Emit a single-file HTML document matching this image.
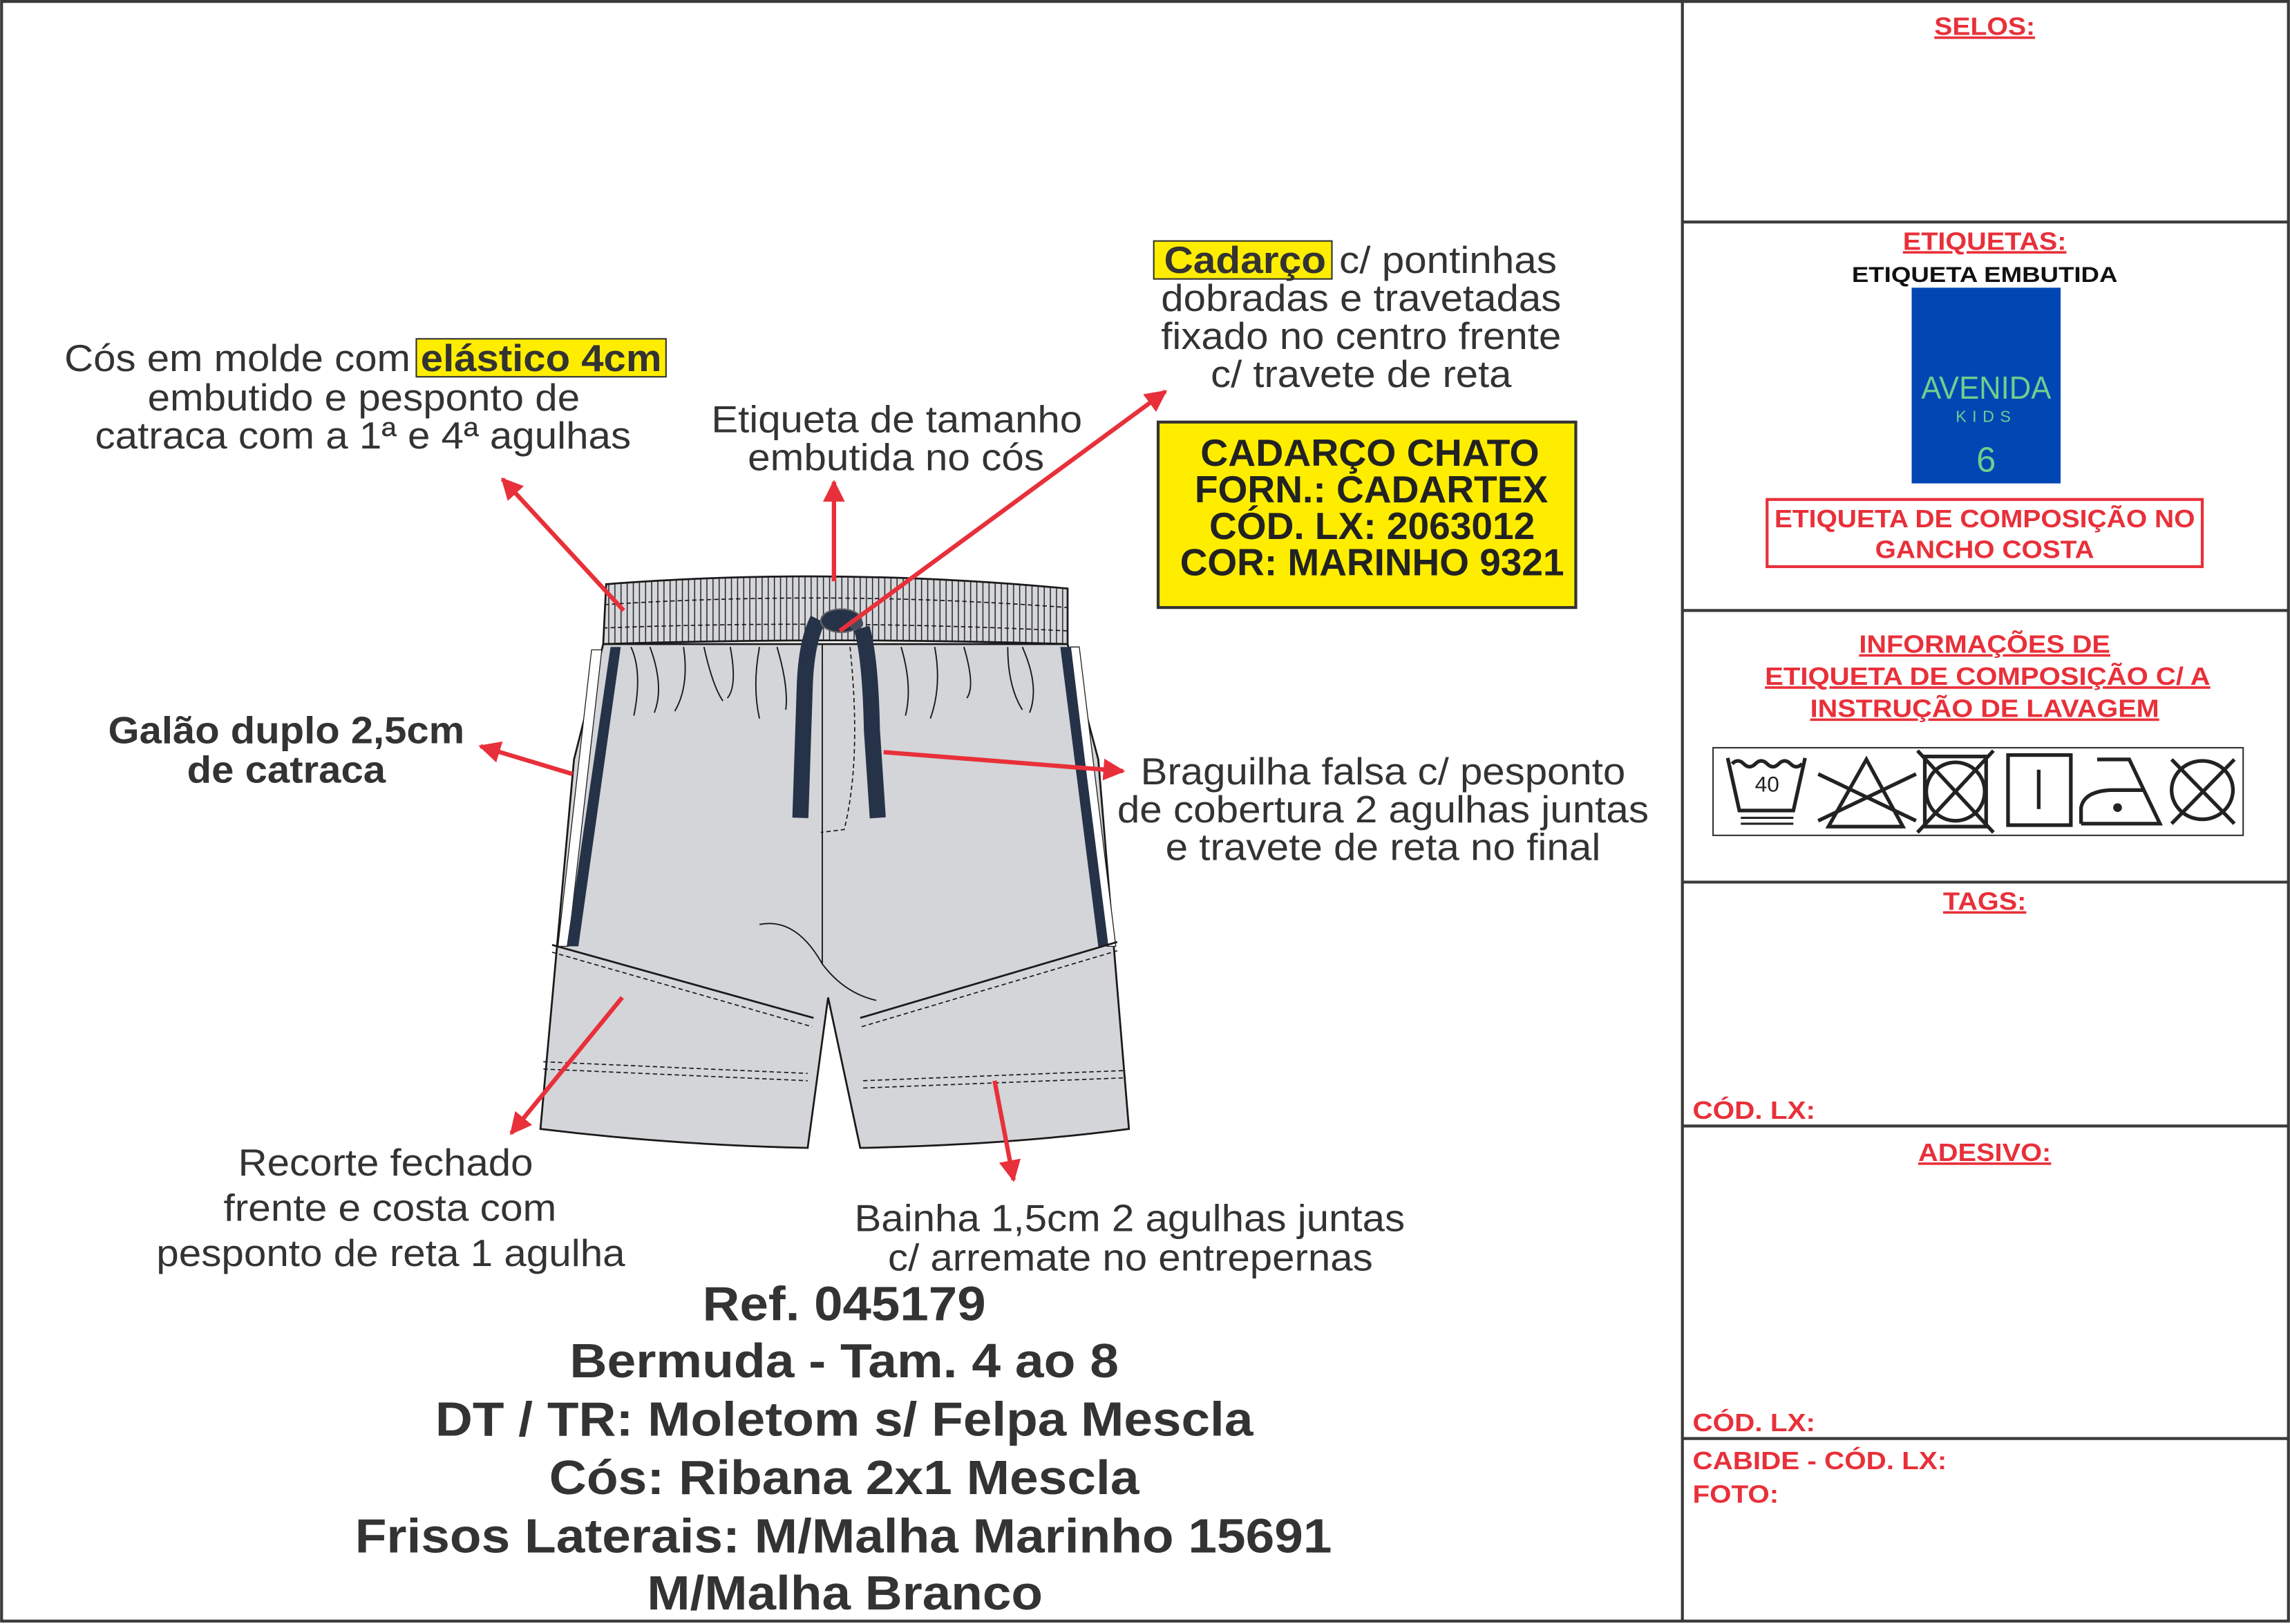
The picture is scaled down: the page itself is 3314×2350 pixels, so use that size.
<!DOCTYPE html>
<html><head><meta charset="utf-8"><style>
html,body{margin:0;padding:0;background:#fff}
svg{display:block}
text{font-family:"Liberation Sans",sans-serif;fill:#333}
.b{font-weight:bold}
.r{fill:#e8303a;font-weight:bold}
</style></head><body>
<svg width="3314" height="2350" viewBox="0 0 1568 1112" xmlns="http://www.w3.org/2000/svg">
<defs>
<marker id="ah" viewBox="0 0 10 10" refX="9" refY="5" markerWidth="5" markerHeight="5" orient="auto"><path d="M0,0 L10,5 L0,10 z" fill="#e8303a"/></marker>
<pattern id="rib" width="4.2" height="50" patternUnits="userSpaceOnUse"><rect width="4.2" height="50" fill="#d6d7da"/><line x1="1" y1="0" x2="1" y2="50" stroke="#222" stroke-width="0.7"/></pattern>
</defs>
<rect x="1" y="1" width="1566" height="1109" fill="#fff" stroke="#3a3a3a" stroke-width="2"/>
<line x1="1152" y1="1" x2="1152" y2="1110" stroke="#3a3a3a" stroke-width="2"/>
<g stroke="#3a3a3a" stroke-width="2">
<line x1="1152" y1="152" x2="1567" y2="152"/><line x1="1152" y1="418" x2="1567" y2="418"/>
<line x1="1152" y1="604" x2="1567" y2="604"/><line x1="1152" y1="771" x2="1567" y2="771"/>
<line x1="1152" y1="985" x2="1567" y2="985"/></g>
<g font-size="17" text-anchor="middle">
<text class="r" x="1359" y="24" textLength="69" lengthAdjust="spacingAndGlyphs" text-decoration="underline">SELOS:</text>
<text class="r" x="1359" y="171" textLength="112" lengthAdjust="spacingAndGlyphs" text-decoration="underline">ETIQUETAS:</text>
<text class="b" x="1359" y="193" textLength="182" lengthAdjust="spacingAndGlyphs" style="fill:#111" font-size="15">ETIQUETA EMBUTIDA</text>
<rect x="1309" y="197" width="102" height="134" fill="#0047b3"/>
<text x="1360" y="273" font-size="22" style="fill:#6dcf8e" textLength="89" lengthAdjust="spacingAndGlyphs">AVENIDA</text>
<text x="1360" y="289" font-size="11" style="fill:#6dcf8e" letter-spacing="4">KIDS</text>
<text x="1360" y="323" font-size="24" style="fill:#6dcf8e">6</text>
<rect x="1210" y="342" width="298" height="46" fill="none" stroke="#e8303a" stroke-width="2"/>
<text class="r" x="1359" y="361" textLength="288" lengthAdjust="spacingAndGlyphs">ETIQUETA DE COMPOSIÇÃO NO</text>
<text class="r" x="1359" y="382" textLength="150" lengthAdjust="spacingAndGlyphs">GANCHO COSTA</text>
<text class="r" x="1359" y="447" textLength="172" lengthAdjust="spacingAndGlyphs" text-decoration="underline">INFORMAÇÕES DE</text>
<text class="r" x="1361" y="469" textLength="305" lengthAdjust="spacingAndGlyphs" text-decoration="underline">ETIQUETA DE COMPOSIÇÃO C/ A</text>
<text class="r" x="1359" y="491" textLength="239" lengthAdjust="spacingAndGlyphs" text-decoration="underline">INSTRUÇÃO DE LAVAGEM</text>
<text class="r" x="1359" y="623" textLength="57" lengthAdjust="spacingAndGlyphs" text-decoration="underline">TAGS:</text>
<text class="r" x="1359" y="795" textLength="91" lengthAdjust="spacingAndGlyphs" text-decoration="underline">ADESIVO:</text>
</g>
<g font-size="17" text-anchor="start">
<text class="r" x="1159" y="766" textLength="84" lengthAdjust="spacingAndGlyphs">CÓD. LX:</text>
<text class="r" x="1159" y="980" textLength="84" lengthAdjust="spacingAndGlyphs">CÓD. LX:</text>
<text class="r" x="1159" y="1006" textLength="174" lengthAdjust="spacingAndGlyphs">CABIDE - CÓD. LX:</text>
<text class="r" x="1159" y="1029" textLength="59" lengthAdjust="spacingAndGlyphs">FOTO:</text>
</g>
<rect x="1173" y="512" width="363" height="60" fill="#fff" stroke="#333" stroke-width="1"/>
<g fill="none" stroke="#222" stroke-width="2.5">
<path d="M1183,519 L1191,555 L1228,555 L1236,519"/>
<path d="M1186,523 q4,-4 8,0 q4,4 8,0 q4,-4 8,0 q4,4 8,0 q4,-4 8,0 q4,4 8,0"/>
<line x1="1192" y1="560" x2="1228" y2="560" stroke-width="1.5"/><line x1="1192" y1="564" x2="1228" y2="564" stroke-width="1.5"/>
<path d="M1252,566 L1278,520 L1303,566 Z"/>
<line x1="1245" y1="530" x2="1312" y2="562"/><line x1="1245" y1="562" x2="1312" y2="530"/>
<rect x="1318" y="518" width="42" height="48"/><circle cx="1339" cy="542" r="20"/>
<line x1="1313" y1="514" x2="1365" y2="570"/><line x1="1365" y1="514" x2="1313" y2="570"/>
<rect x="1375" y="517" width="43" height="48"/><line x1="1396" y1="527" x2="1396" y2="554"/>
<path d="M1425,564 L1425,553 Q1427,542 1445,541 L1468,541 L1458,520 L1436,520 M1425,564 L1479,564 L1468,541"/>
<ellipse cx="1508" cy="541" rx="21" ry="20"/>
<line x1="1487" y1="520" x2="1530" y2="564"/><line x1="1530" y1="520" x2="1487" y2="564"/>
</g>
<circle cx="1450" cy="553" r="3" fill="#222"/>
<text x="1210" y="542" font-size="15" text-anchor="middle" style="fill:#222">40</text>

<g stroke="#1a1a1a" stroke-width="1.3">
<path d="M413,441 L393,520 L370,773 Q460,784 553,786 L567,683 L589,786 Q690,784 773,773 L752,520 L731,441 Z" fill="#d3d5d8"/>
<path d="M405,445 L382,648 L389,648 L412,445 Z" fill="#fff" stroke-width="0.6"/>
<path d="M418,443 L388,648 L396,648 L425,443 Z" fill="#263248" stroke="none"/>
<path d="M739,443 L764,648 L758,648 L733,443 Z" fill="#fff" stroke-width="0.6"/>
<path d="M726,443 L752,648 L759,648 L733,443 Z" fill="#263248" stroke="none"/>
<path d="M378,647 L557,697" fill="none"/><path d="M589,697 L765,645" fill="none"/>
<path d="M378,652 L556,703" fill="none" stroke-dasharray="3,2" stroke-width="0.8"/>
<path d="M590,703 L765,651" fill="none" stroke-dasharray="3,2" stroke-width="0.8"/>
<path d="M372,727 L553,735 M372,732 L553,740" stroke-dasharray="3,2" stroke-width="0.8"/>
<path d="M591,740 L771,733 M591,745 L771,738" stroke-dasharray="3,2" stroke-width="0.8"/>
<line x1="563" y1="441" x2="563" y2="660" stroke-width="0.9"/>
<path d="M520,633 Q545,628 563,660 Q578,680 600,685" fill="none" stroke-width="0.9"/>
<path d="M582,443 Q590,520 578,568 L562,570" fill="none" stroke-dasharray="3,2" stroke-width="0.8"/>
<g fill="none" stroke-width="0.9">
<path d="M432,443 Q440,460 434,490"/><path d="M445,443 Q455,470 448,488"/><path d="M468,443 Q472,470 462,487"/>
<path d="M482,443 Q488,470 495,480"/><path d="M500,443 Q505,470 498,478"/><path d="M520,443 Q515,470 520,492"/>
<path d="M532,443 Q540,470 538,486"/><path d="M617,443 Q625,470 620,490"/><path d="M640,443 Q645,470 637,492"/>
<path d="M660,443 Q668,470 662,478"/><path d="M690,443 Q690,470 700,486"/><path d="M700,443 Q712,470 705,488"/>
</g>
<path d="M415,400 Q570,388 731,403 L731,441 Q570,436 413,441 Z" fill="url(#rib)"/>
<path d="M414,414 Q570,404 731,416 M413,430 Q570,424 731,432" fill="none" stroke-dasharray="3,2" stroke-width="0.8"/>
</g>
<g fill="none" stroke="#263248" stroke-linecap="butt">
<path d="M560,424 Q552,440 551,470 L548,560" stroke-width="11"/>
<path d="M590,430 Q596,450 597,500 L601,560" stroke-width="11"/>
</g>
<ellipse cx="576" cy="425" rx="14" ry="8" fill="#263248" stroke="#666" stroke-width="1"/>
<ellipse cx="586" cy="427" rx="5" ry="4" fill="#444c5c"/>
<g stroke="#e8303a" stroke-width="3" fill="none" marker-end="url(#ah)">
<line x1="427" y1="418" x2="344" y2="328"/>
<line x1="571" y1="398" x2="571" y2="330"/>
<line x1="575" y1="432" x2="798" y2="268"/>
<line x1="392" y1="530" x2="329" y2="511"/>
<line x1="605" y1="515" x2="769" y2="528"/>
<line x1="426" y1="683" x2="350" y2="776"/>
<line x1="681" y1="740" x2="694" y2="808"/>
</g>
<g font-size="26" text-anchor="start">
<text x="44" y="254" textLength="237" lengthAdjust="spacingAndGlyphs">Cós em molde com</text>
<rect x="285" y="232" width="171" height="26" fill="#ffed00" stroke="#333" stroke-width="1"/>
<text class="b" x="288" y="254" textLength="165" lengthAdjust="spacingAndGlyphs">elástico 4cm</text>
<text x="101" y="281" textLength="296" lengthAdjust="spacingAndGlyphs">embutido e pesponto de</text>
<text x="65" y="307" textLength="367" lengthAdjust="spacingAndGlyphs">catraca com a 1ª e 4ª agulhas</text>
<text x="487" y="296" textLength="254" lengthAdjust="spacingAndGlyphs">Etiqueta de tamanho</text>
<text x="512" y="322" textLength="203" lengthAdjust="spacingAndGlyphs">embutida no cós</text>
<rect x="790" y="165" width="122" height="26" fill="#ffed00" stroke="#333" stroke-width="1"/>
<text class="b" x="797" y="187" textLength="111" lengthAdjust="spacingAndGlyphs">Cadarço</text>
<text x="917" y="187" textLength="149" lengthAdjust="spacingAndGlyphs">c/ pontinhas</text>
<text x="795" y="213" textLength="274" lengthAdjust="spacingAndGlyphs">dobradas e travetadas</text>
<text x="795" y="239" textLength="274" lengthAdjust="spacingAndGlyphs">fixado no centro frente</text>
<text x="829" y="265" textLength="206" lengthAdjust="spacingAndGlyphs">c/ travete de reta</text>
<rect x="793" y="289" width="286" height="127" fill="#ffed00" stroke="#333" stroke-width="2"/>
<text class="b" x="822" y="319" textLength="232" lengthAdjust="spacingAndGlyphs" style="fill:#222">CADARÇO CHATO</text>
<text class="b" x="818" y="344" textLength="242" lengthAdjust="spacingAndGlyphs" style="fill:#222">FORN.: CADARTEX</text>
<text class="b" x="828" y="369" textLength="223" lengthAdjust="spacingAndGlyphs" style="fill:#222">CÓD. LX: 2063012</text>
<text class="b" x="808" y="394" textLength="263" lengthAdjust="spacingAndGlyphs" style="fill:#222">COR: MARINHO 9321</text>
<text class="b" x="74" y="509" textLength="244" lengthAdjust="spacingAndGlyphs">Galão duplo 2,5cm</text>
<text class="b" x="128" y="536" textLength="136" lengthAdjust="spacingAndGlyphs">de catraca</text>
<text x="781" y="537" textLength="332" lengthAdjust="spacingAndGlyphs">Braguilha falsa c/ pesponto</text>
<text x="765" y="563" textLength="364" lengthAdjust="spacingAndGlyphs">de cobertura 2 agulhas juntas</text>
<text x="798" y="589" textLength="298" lengthAdjust="spacingAndGlyphs">e travete de reta no final</text>
<text x="163" y="805" textLength="202" lengthAdjust="spacingAndGlyphs">Recorte fechado</text>
<text x="153" y="836" textLength="228" lengthAdjust="spacingAndGlyphs">frente e costa com</text>
<text x="107" y="867" textLength="321" lengthAdjust="spacingAndGlyphs">pesponto de reta 1 agulha</text>
<text x="585" y="843" textLength="377" lengthAdjust="spacingAndGlyphs">Bainha 1,5cm 2 agulhas juntas</text>
<text x="608" y="870" textLength="332" lengthAdjust="spacingAndGlyphs">c/ arremate no entrepernas</text>
</g>
<g font-size="33" font-weight="bold">
<text x="481" y="904" textLength="194" lengthAdjust="spacingAndGlyphs">Ref. 045179</text>
<text x="390" y="943" textLength="376" lengthAdjust="spacingAndGlyphs">Bermuda - Tam. 4 ao 8</text>
<text x="298" y="983" textLength="560" lengthAdjust="spacingAndGlyphs">DT / TR: Moletom s/ Felpa Mescla</text>
<text x="376" y="1023" textLength="404" lengthAdjust="spacingAndGlyphs">Cós: Ribana 2x1 Mescla</text>
<text x="243" y="1063" textLength="669" lengthAdjust="spacingAndGlyphs">Frisos Laterais: M/Malha Marinho 15691</text>
<text x="443" y="1102" textLength="271" lengthAdjust="spacingAndGlyphs">M/Malha Branco</text>
</g>
</svg>
</body></html>
